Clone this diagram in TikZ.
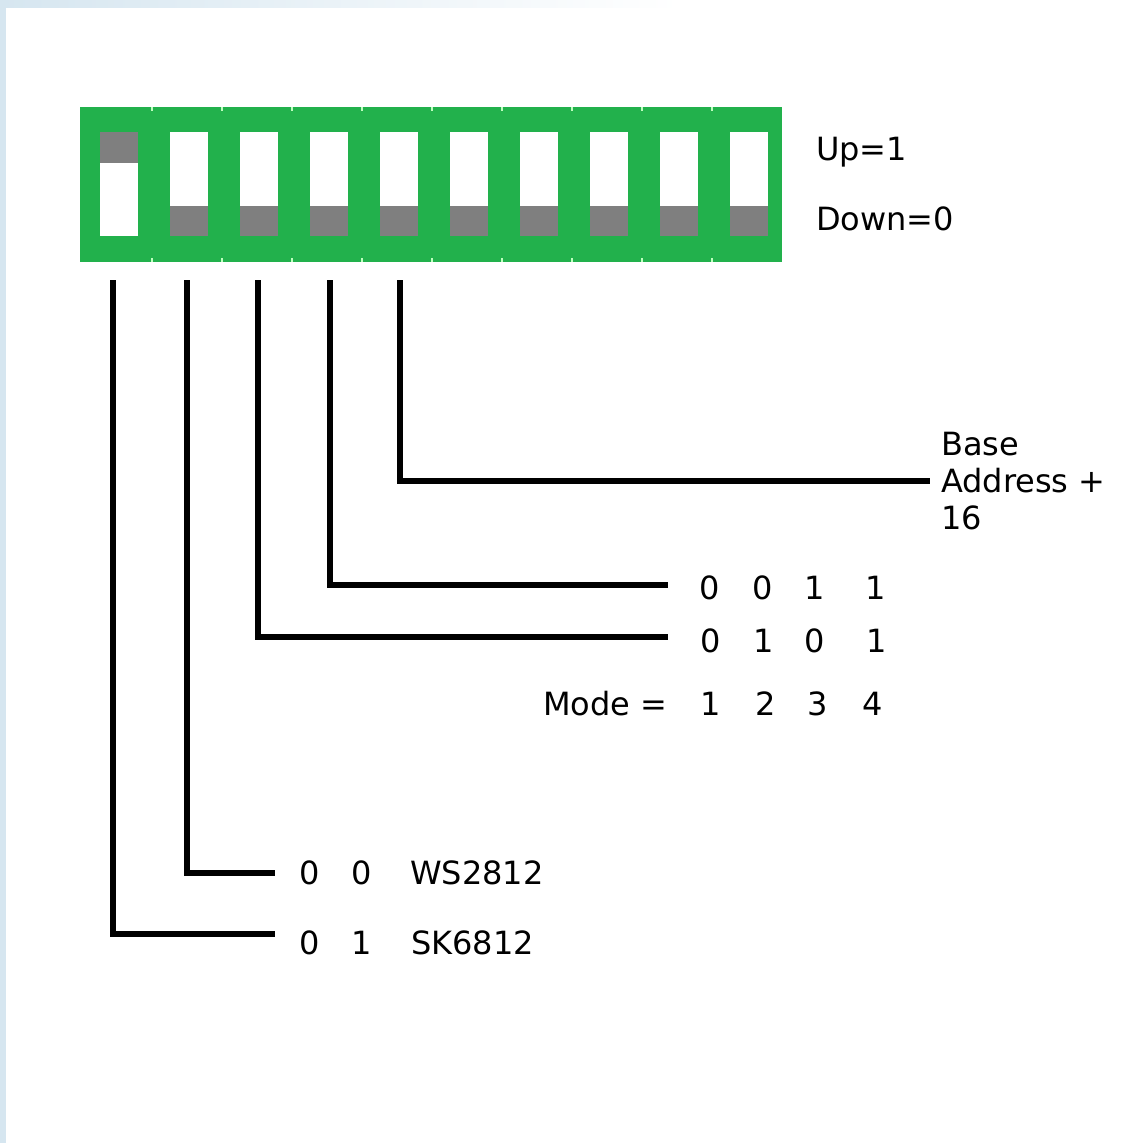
\documentclass[tikz,border=0pt]{standalone}
\usepackage{fontspec}
\setmainfont{DejaVu Sans}
\definecolor{dipgreen}{HTML}{22B14C}
\definecolor{knob}{HTML}{7F7F7F}
\definecolor{frameblue}{HTML}{D6E6F0}
\begin{document}
\begin{tikzpicture}[x=1pt,y=-1pt,
  lead/.style={line width=5.5pt, line join=miter, black},
  lbl/.style={anchor=base west, inner sep=0pt, font=\fontsize{32}{37}\selectfont},
  dig/.style={anchor=base, inner sep=0pt, font=\fontsize{32}{37}\selectfont},
  swbox/.style={fill=white, minimum width=38pt, minimum height=104pt, inner sep=0pt, draw=none},
  tick/.style={line width=1.2pt, green!25!white}]
\useasboundingbox (0,0) rectangle (1122,1143);
\fill[white] (0,0) rectangle (1122,1143);
% frame
\fill[frameblue] (0,0) rectangle (6,1143);
\shade[left color=frameblue, right color=white] (0,0) rectangle (680,7);
% DIP switch body
\node (dip) [fill=dipgreen, minimum width=702pt, minimum height=155pt, inner sep=0pt, anchor=north west] at (80,107) {};
\foreach \k in {0,...,8} {
  \draw[tick] (152+70*\k,107) -- (152+70*\k,111);
  \draw[tick] (152+70*\k,258) -- (152+70*\k,262);
}
% switches
\foreach \i in {1,...,10} {
  \node (sw\i) [swbox] at (49+70*\i,184) {};
}
\fill[knob] (sw1.north west) rectangle ([yshift=-31pt]sw1.north east);
\foreach \i in {2,...,10} {
  \fill[knob] ([yshift=30pt]sw\i.south west) rectangle (sw\i.south east);
}
% labels
\node (up) [lbl] at (816,160) {Up=1};
\node (down) [lbl] at (816,230) {Down=0};
\node (base) [lbl] at (941,455) {\begin{tabular}[t]{@{}l@{}}Base\\Address +\\16\end{tabular}};
\node (r1a) [dig] at (710,599) {0};
\node (r1b) [dig] at (763,599) {0};
\node (r1c) [dig] at (815,599) {1};
\node (r1d) [dig] at (876,599) {1};
\node (r2a) [dig] at (711,652) {0};
\node (r2b) [dig] at (764,652) {1};
\node (r2c) [dig] at (815,652) {0};
\node (r2d) [dig] at (877,652) {1};
\node (mode) [lbl] at (543,715) {Mode =};
\node (m1) [dig] at (711,715) {1};
\node (m2) [dig] at (766,715) {2};
\node (m3) [dig] at (818,715) {3};
\node (m4) [dig] at (873,715) {4};
\node (w1) [dig] at (310,884) {0};
\node (w2) [dig] at (362,884) {0};
\node (ws) [lbl] at (410,884) {WS2812};
\node (k1) [dig] at (310,954) {0};
\node (k2) [dig] at (362,954) {1};
\node (sk) [lbl] at (411,954) {SK6812};
% connectors
\coordinate (t1) at (113,280);
\coordinate (t2) at (187,280);
\coordinate (t3) at (258,280);
\coordinate (t4) at (330,280);
\coordinate (t5) at (400,280);
\coordinate (e1) at (275,934);
\coordinate (e2) at (275,873);
\coordinate (e3) at (668,637);
\coordinate (e4) at (668,585);
\coordinate (e5) at (930,481);
\draw[lead] (t1) |- (e1);
\draw[lead] (t2) |- (e2);
\draw[lead] (t3) |- (e3);
\draw[lead] (t4) |- (e4);
\draw[lead] (t5) |- (e5);
\end{tikzpicture}
\end{document}
